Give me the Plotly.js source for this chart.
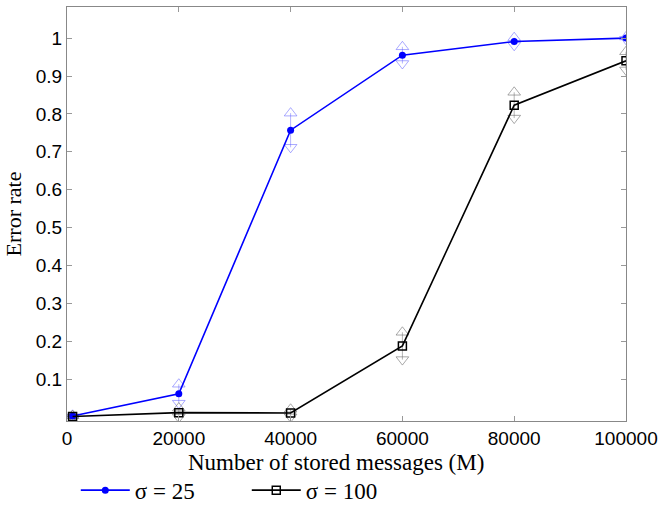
<!DOCTYPE html>
<html>
<head>
<meta charset="utf-8">
<script src="https://cdn.plot.ly/plotly-3.0.1.min.js"></script>
<style>html,body{margin:0;padding:0;background:#fff;}#chart{width:659px;height:516px;}</style>
</head>
<body>
<div id="chart"></div>
<script>
const messages = [1000, 20000, 40000, 60000, 80000, 100000];
const err25 = [0.003, 0.062, 0.757, 0.955, 0.991, 1.0];
const dev25 = [0.002, 0.025, 0.045, 0.022, 0.01, 0.003];
const err100 = [0.002, 0.012, 0.011, 0.188, 0.823, 0.94];
const dev100 = [0.002, 0.012, 0.01, 0.036, 0.034, 0.024];
const seriesNames = ['σ = 25', 'σ = 100'];
const xTicks = [0, 20000, 40000, 60000, 80000, 100000];
const yTicks = [0.1, 0.2, 0.3, 0.4, 0.5, 0.6, 0.7, 0.8, 0.9, 1];
const xTitle = 'Number of stored messages (M)';
const yTitle = 'Error rate';

function errTraces(vals, devs, color) {
  const up = vals.map((v, i) => v + devs[i]);
  const dn = vals.map((v, i) => v - devs[i]);
  return [
    {x: messages, y: vals, mode: 'markers', showlegend: false, hoverinfo: 'skip',
     marker: {opacity: 0, size: 1},
     error_y: {type: 'data', array: devs, visible: true, width: 0, thickness: 0.7, color: color}},
    {x: messages, y: up, mode: 'markers', showlegend: false, hoverinfo: 'skip',
     marker: {symbol: 'triangle-up-open', size: 11, color: color, line: {width: 0.8, color: color}}},
    {x: messages, y: dn, mode: 'markers', showlegend: false, hoverinfo: 'skip',
     marker: {symbol: 'triangle-down-open', size: 11, color: color, line: {width: 0.8, color: color}}}
  ];
}

const traces = [
  ...errTraces(err25, dev25, 'rgba(90,90,255,0.65)'),
  ...errTraces(err100, dev100, 'rgba(110,110,110,0.75)'),
  {x: messages, y: err25, name: seriesNames[0], mode: 'lines+markers',
   line: {color: '#0000ff', width: 1.6},
   marker: {symbol: 'circle', size: 7, color: '#0000ff'}},
  {x: messages, y: err100, name: seriesNames[1], mode: 'lines+markers',
   line: {color: '#000000', width: 1.6},
   marker: {symbol: 'square-open', size: 8, color: '#000000', line: {width: 1.5, color: '#000'}}}
];

const layout = {
  width: 659, height: 516,
  margin: {l: 67, r: 33, t: 7, b: 95},
  paper_bgcolor: '#fff', plot_bgcolor: '#fff',
  showlegend: true,
  legend: {orientation: 'h', xref: 'container', yref: 'container', x: 0.115, y: 0.05,
           xanchor: 'left', yanchor: 'middle',
           font: {family: 'Liberation Serif', size: 23, color: '#000'},
           itemwidth: 49, entrywidth: 107, entrywidthmode: 'pixels', tracegroupgap: 0},
  xaxis: {
    range: [0, 100000], tickvals: xTicks, ticktext: xTicks.map(String),
    ticks: 'inside', ticklen: 5, tickcolor: '#999', mirror: 'ticks',
    showline: true, linecolor: '#888', linewidth: 1, showgrid: false, zeroline: false,
    automargin: false,
    tickfont: {family: 'Liberation Sans', size: 19, color: '#000'}
  },
  yaxis: {
    range: [-0.01, 1.082], tickvals: yTicks, ticktext: yTicks.map(String),
    ticks: 'inside', ticklen: 5, tickcolor: '#999', mirror: 'ticks',
    showline: true, linecolor: '#888', linewidth: 1, showgrid: false, zeroline: false,
    automargin: false,
    tickfont: {family: 'Liberation Sans', size: 19, color: '#000'},
    title: {text: yTitle, font: {family: 'Liberation Serif', size: 22, color: '#000'}, standoff: 8}
  },
  annotations: [{
    text: xTitle, xref: 'paper', yref: 'paper', x: 0.481, y: -0.101,
    xanchor: 'center', yanchor: 'middle', showarrow: false,
    font: {family: 'Liberation Serif', size: 23, color: '#000'}
  }]
};

Plotly.newPlot('chart', traces, layout, {displayModeBar: false, staticPlot: true});
</script>
</body>
</html>
